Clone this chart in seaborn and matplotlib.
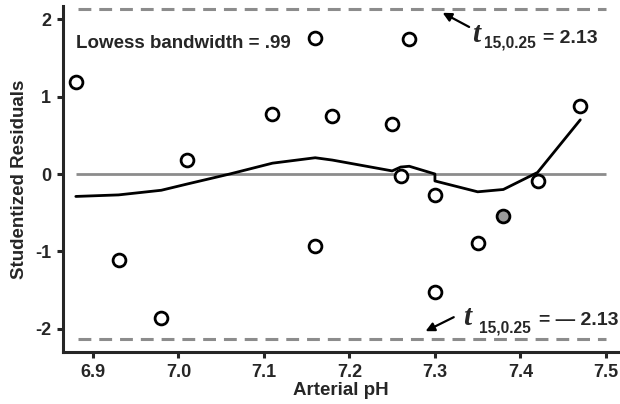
import pandas as pd
import seaborn as sns
import matplotlib.pyplot as plt

# observed studentized residuals vs arterial pH
ph = [6.88, 6.93, 6.98, 7.01, 7.11, 7.16, 7.16, 7.18, 7.25, 7.26, 7.27,
      7.30, 7.30, 7.35, 7.38, 7.42, 7.47]
resid = [1.19, -1.11, -1.86, 0.18, 0.78, 1.76, -0.93, 0.75, 0.65, -0.03, 1.75,
         -0.27, -1.53, -0.89, -0.54, -0.09, 0.88]
highlight = [False] * 14 + [True] + [False] * 2

# lowess smooth
lowess_x = [6.88, 6.93, 6.98, 7.01, 7.06, 7.11, 7.16, 7.18, 7.25, 7.26, 7.27,
            7.30, 7.30, 7.35, 7.38, 7.42, 7.47]
lowess_y = [-0.29, -0.27, -0.21, -0.13, 0.0, 0.14, 0.21, 0.18, 0.04, 0.09, 0.10,
            0.0, -0.09, -0.23, -0.20, 0.02, 0.70]

t_crit = 2.13

df = pd.DataFrame({'pH': ph, 'resid': resid, 'hl': highlight})
smooth = pd.DataFrame({'pH': lowess_x, 'fit': lowess_y})

sns.set_style('ticks')
plt.rcParams['font.family'] = ['Liberation Sans', 'DejaVu Sans']
plt.rcParams['font.weight'] = 'bold'

fig = plt.figure(figsize=(6.2, 4.04), dpi=100)
ax = fig.add_axes([0.1016, 0.1287, 0.8964, 0.8563])

ax.hlines(0, 6.880, 7.5, color='#8c8c8c', lw=2, zorder=1)
ax.hlines([t_crit, -t_crit], 6.882, 7.5, color='#8c8c8c', lw=2.2,
          linestyles=(0, (4.2, 2.6)), zorder=1)

sns.lineplot(data=smooth, x='pH', y='fit', sort=False, estimator=None,
             color='black', lw=2, ax=ax, zorder=2)

sns.scatterplot(data=df[~df['hl']], x='pH', y='resid', s=85, color='white',
                edgecolor='black', linewidth=2, ax=ax, zorder=3)
sns.scatterplot(data=df[df['hl']], x='pH', y='resid', s=85, color='#9a9a9a',
                edgecolor='black', linewidth=2, ax=ax, zorder=3)

ax.set_xlim(6.865, 7.515)
ax.set_ylim(-2.30, 2.17)
ax.set_xticks([6.9, 7.0, 7.1, 7.2, 7.3, 7.4, 7.5])
ax.set_xticklabels(['6.9', '7.0', '7.1', '7.2', '7.3', '7.4', '7.5'])
ax.set_yticks([-2, -1, 0, 1, 2])
ax.set_yticklabels(['-2', '-1', '0', '1', '2'])
ax.tick_params(width=2.2, length=4.5, labelsize=13, pad=4)
for lab in ax.get_xticklabels() + ax.get_yticklabels():
    lab.set_fontweight('bold')
sns.despine(ax=ax)
ax.spines['left'].set_linewidth(2.2)
ax.spines['bottom'].set_linewidth(2.2)

ax.set_xlabel('Arterial pH', fontsize=13.5, fontweight='bold', labelpad=1)
ax.set_ylabel('Studentized Residuals', fontsize=13.5, fontweight='bold', labelpad=5)

ax.text(6.880, 1.63, 'Lowess bandwidth = .99', fontsize=13.5, fontweight='bold',
        va='baseline', ha='left')

# critical t annotations, built from pieces
t_font = dict(family=['Liberation Serif', 'DejaVu Serif'], style='italic',
              fontweight='heavy', fontsize=21, va='baseline')
arrow = dict(arrowstyle='-|>', color='black', lw=1.6, mutation_scale=13,
             shrinkA=0, shrinkB=0)

ax.text(7.343, 1.708, 't', **t_font)
ax.text(7.3575, 1.630, '15,0.25', fontsize=11.2, fontweight='bold', va='baseline')
ax.text(7.426, 1.695, '= 2.13', fontsize=14, fontweight='bold', va='baseline')
ax.annotate('', xy=(7.309, 2.083), xytext=(7.340, 1.90), arrowprops=arrow)

ax.text(7.333, -1.953, 't', **t_font)
ax.text(7.3515, -2.044, '15,0.25', fontsize=11.2, fontweight='bold', va='baseline')
ax.text(7.422, -1.953, '= \u2014 2.13', fontsize=14, fontweight='bold', va='baseline')
ax.annotate('', xy=(7.289, -2.031), xytext=(7.322, -1.85), arrowprops=arrow)

fig.savefig('out.png', dpi=100)
